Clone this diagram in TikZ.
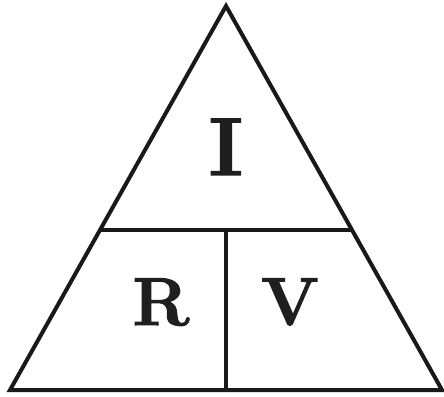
\documentclass[tikz,border=0pt]{standalone}
\usepackage{fontspec}
\newfontfamily\heavy{Latin Modern Roman}[FakeBold=1.6]
\usetikzlibrary{calc}
\begin{document}
\begin{tikzpicture}[x=1pt,y=-1pt,
  edge/.style={line width=4pt,line join=miter,black!90},
  big/.style={inner sep=0pt,anchor=base,font=\fontsize{68}{70}\selectfont\heavy\bfseries,text=black!88},
  bigI/.style={inner sep=0pt,anchor=base,font=\fontsize{82}{84}\selectfont\heavy\bfseries,text=black!88}]
\useasboundingbox (0,0) rectangle (444,396);
\coordinate (A) at (226,6);
\coordinate (B) at (10,390);
\coordinate (C) at (442,390);
\coordinate (L) at ($(A)!0.5833!(B)$);
\coordinate (R) at ($(A)!0.5833!(C)$);
\coordinate (M) at (226,230);
\coordinate (N) at (226,390);
\draw[edge] (A) -- (B) -- (C) -- cycle;
\draw[edge] (L) -- (R);
\draw[edge] (M) -- (N);
\node[bigI] (i) at (226,175) {I};
\node[big] (r) at (161,325) {R};
\node[big] (v) at (290,325) {V};
\end{tikzpicture}
\end{document}
